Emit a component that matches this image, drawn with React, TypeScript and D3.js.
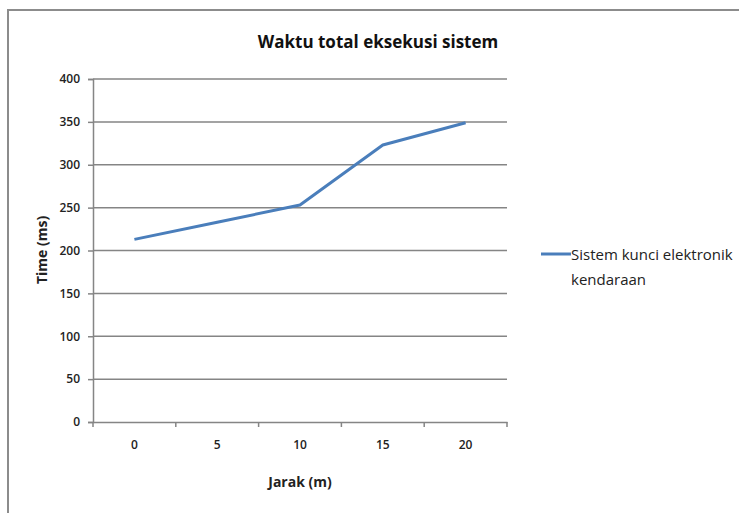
import React, { useEffect, useRef } from 'react';
import * as d3 from 'd3';

const categories = ['0', '5', '10', '15', '20'];
const values = [213, 233, 253, 323, 349];
const yTicks = [0, 50, 100, 150, 200, 250, 300, 350, 400];
const seriesName = ['Sistem kunci elektronik', 'kendaraan'];

const App = () => {
  const svgRef = useRef<SVGSVGElement>(null);

  useEffect(() => {
    const svg = d3.select(svgRef.current);
    svg.selectAll('*').remove();
    const width = 739;
    const height = 513;
    const left = 93, right = 507, top = 79, bottom = 422;
    const font = 'Open Sans, Noto Sans, sans-serif';

    // chart frame
    svg.append('rect')
      .attr('x', 8).attr('y', 10)
      .attr('width', width).attr('height', height)
      .attr('fill', '#fff')
      .attr('stroke', '#8c8c8c')
      .attr('stroke-width', 2);

    const x = d3.scaleBand().domain(categories).range([left, right]);
    const y = d3.scaleLinear().domain([0, 400]).range([bottom, top]);

    // gridlines
    svg.append('g').selectAll('line').data(yTicks.filter((t) => t > 0)).join('line')
      .attr('x1', left).attr('x2', right)
      .attr('y1', (d) => y(d)).attr('y2', (d) => y(d))
      .attr('stroke', '#858585')
      .attr('stroke-width', 1.5);

    // y axis
    const yAxis = svg.append('g')
      .attr('transform', `translate(${left},0)`)
      .call(d3.axisLeft(y).tickValues(yTicks).tickSize(5).tickPadding(8));
    yAxis.select('.domain').attr('stroke', '#858585').attr('stroke-width', 1.5);
    yAxis.selectAll('.tick line').attr('stroke', '#858585').attr('stroke-width', 1.5);
    yAxis.selectAll('.tick text')
      .attr('fill', '#222').style('font-size', '12px').style('font-weight', 600)
      .style('font-family', font);

    // x axis
    const xAxis = svg.append('g')
      .attr('transform', `translate(0,${bottom})`)
      .call(d3.axisBottom(x).tickSize(0).tickPadding(18));
    xAxis.select('.domain').attr('stroke', '#858585').attr('stroke-width', 1.5);
    xAxis.selectAll('.tick text')
      .attr('fill', '#222').style('font-size', '12px').style('font-weight', 600)
      .style('font-family', font);
    const bounds = categories.map((c) => x(c) as number).concat([right]);
    xAxis.selectAll('.bound').data(bounds).join('line')
      .attr('class', 'bound')
      .attr('x1', (d) => d).attr('x2', (d) => d)
      .attr('y1', 0).attr('y2', 5)
      .attr('stroke', '#858585').attr('stroke-width', 1.5);

    // series line
    const line = d3.line<number>()
      .x((_, i) => (x(categories[i]) as number) + x.bandwidth() / 2)
      .y((d) => y(d));
    svg.append('path')
      .datum(values)
      .attr('d', line)
      .attr('fill', 'none')
      .attr('stroke', '#4a7ebb')
      .attr('stroke-width', 3)
      .attr('stroke-linejoin', 'round');

    // title
    svg.append('text')
      .attr('x', 378).attr('y', 48)
      .attr('text-anchor', 'middle')
      .style('font-family', font).style('font-size', '17px').style('font-weight', 'bold')
      .attr('fill', '#111')
      .text('Waktu total eksekusi sistem');

    // axis titles
    svg.append('text')
      .attr('x', 300).attr('y', 487)
      .attr('text-anchor', 'middle')
      .style('font-family', font).style('font-size', '14px').style('font-weight', 'bold')
      .attr('fill', '#222')
      .text('Jarak (m)');
    svg.append('text')
      .attr('transform', 'translate(47,250) rotate(-90)')
      .attr('text-anchor', 'middle')
      .style('font-family', font).style('font-size', '14px').style('font-weight', 'bold')
      .attr('fill', '#222')
      .text('Time (ms)');

    // legend
    svg.append('line')
      .attr('x1', 541).attr('x2', 571).attr('y1', 254).attr('y2', 254)
      .attr('stroke', '#4a7ebb').attr('stroke-width', 3);
    svg.append('g').selectAll('text').data(seriesName).join('text')
      .attr('x', 571).attr('y', (_, i) => 260 + i * 25)
      .style('font-family', font).style('font-size', '15px')
      .attr('fill', '#222')
      .text((d) => d);

    svg.attr('width', width).attr('height', height);
  }, []);

  return <svg ref={svgRef} style={{ position: 'absolute', left: 0, top: 0 }} />;
};

export default App;
